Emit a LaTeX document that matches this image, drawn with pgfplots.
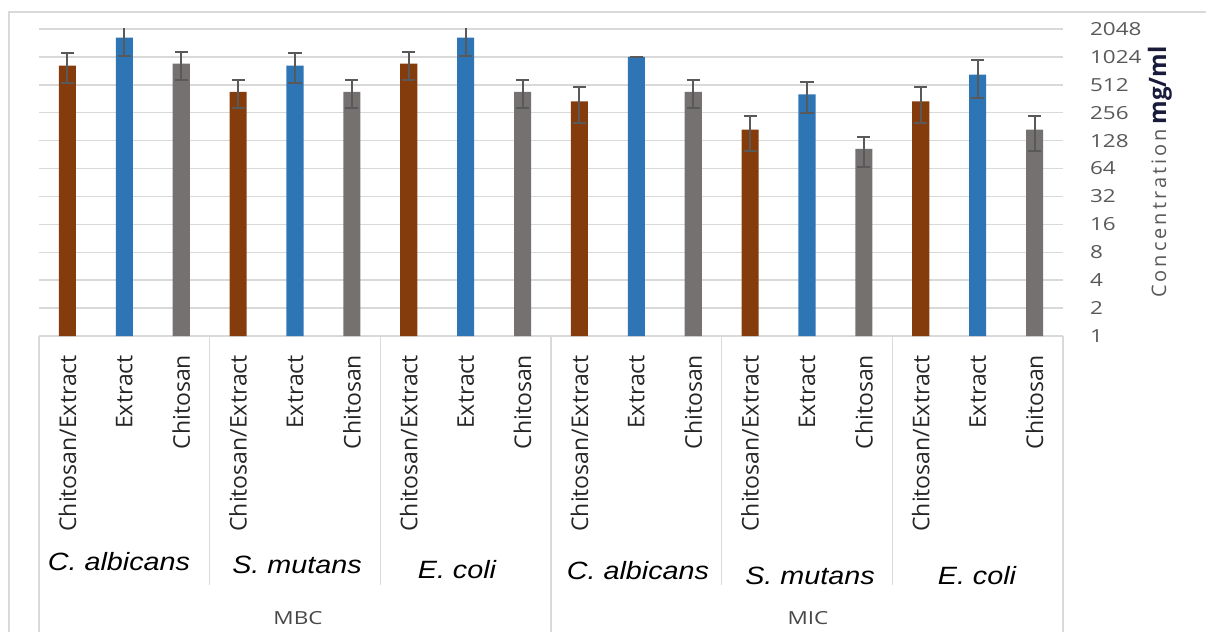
\documentclass[border=0pt]{standalone}
\usepackage{pgfplots}
\pgfplotsset{compat=1.18}
\usepackage{fontspec}
\setmainfont{Open Sans}
\newfontfamily\tickfont[FakeStretch=1.25]{Open Sans}
\newfontfamily\orgfont[FakeStretch=1.15]{Liberation Sans}
\newfontfamily\labfont[LetterSpace=15]{Open Sans}
\definecolor{cbrown}{HTML}{843C0C}
\definecolor{cblue}{HTML}{2E75B6}
\definecolor{cgray}{HTML}{767171}
\definecolor{gridc}{HTML}{D9D9D9}
\definecolor{txtg}{HTML}{595959}
\definecolor{errc}{HTML}{595959}
\begin{document}
\begin{tikzpicture}
\useasboundingbox (-19.5pt,-148pt) rectangle (583.5pt,168pt);
\begin{axis}[
  at={(0,0)}, anchor=south west,
  width=512pt, height=153.5pt, scale only axis,
  ymode=log, log basis y=2, ymin=1, ymax=2048,
  xmin=-0.5, xmax=17.5,
  ytick={1,2,4,8,16,32,64,128,256,512,1024,2048},
  yticklabels={1,2,4,8,16,32,64,128,256,512,1024,2048},
  ytick pos=right, yticklabel pos=right,
  yticklabel style={anchor=west, font=\tickfont\fontsize{9}{10}\selectfont, text=txtg},
  yticklabel shift=10pt,
  major tick length=0pt,
  ymajorgrids, grid style={gridc, line width=0.75pt},
  axis line style={draw=none},
  xtick={0,...,17},
  xticklabels={Chitosan/Extract,Extract,Chitosan,Chitosan/Extract,Extract,Chitosan,Chitosan/Extract,Extract,Chitosan,Chitosan/Extract,Extract,Chitosan,Chitosan/Extract,Extract,Chitosan,Chitosan/Extract,Extract,Chitosan},
  xticklabel style={rotate=90, anchor=east, font=\fontsize{11.5}{13}\selectfont, text=black!85},
  xticklabel shift=6pt,
  ybar, bar width=0.3, bar shift=0pt,
  error bars/y dir=both, error bars/y explicit,
  error bars/error bar style={line width=1pt, color=errc},
  error bars/error mark options={rotate=90, mark size=3.3pt, line width=1pt, color=errc},
]
\addplot[fill=cbrown, draw=none] table[x=x, y=y, y error=e] {
x y e
0 826 290
3 430 140
6 867 290
9 340 140
12 168 70
15 340 140
};
\addplot[fill=cblue, draw=none] table[x=x, y=y, y error=e] {
x y e
1 1650 590
4 826 290
7 1650 590
10 1024 0
13 405 150
16 660 290
};
\addplot[fill=cgray, draw=none] table[x=x, y=y, y error=e] {
x y e
2 867 290
5 430 140
8 430 140
11 430 140
14 104 37
17 168 70
};
\end{axis}
% chart border
\draw[gridc, line width=0.75pt] (-15pt,-150pt) -- (-15pt,162pt) -- (590pt,162pt);
% category table lines
\foreach \xx in {0,256,512} \draw[gridc, line width=0.75pt] (\xx pt,0) -- (\xx pt,-150pt);
\foreach \xx in {85.333,170.667,341.333,426.667} \draw[gridc, line width=0.75pt] (\xx pt,0) -- (\xx pt,-124.5pt);
% organism names
\begin{scope}[every node/.style={font=\orgfont\itshape\fontsize{12.5}{14}\selectfont, text=black}]
\node at (40pt,-113pt) {C. albicans};
\node at (129pt,-114.5pt) {S. mutans};
\node at (209pt,-117pt) {E. coli};
\node at (299.5pt,-117.5pt) {C. albicans};
\node at (385.5pt,-120pt) {S. mutans};
\node at (469pt,-120pt) {E. coli};
\end{scope}
\node[font=\tickfont\fontsize{9}{10}\selectfont, text=txtg!80!black] at (129.5pt,-141pt) {MBC};
\node[font=\tickfont\fontsize{9}{10}\selectfont, text=txtg!80!black] at (384.5pt,-141pt) {MIC};
% y label
\node[rotate=90, anchor=south] at (570pt,82pt) {{\labfont\fontsize{10}{12}\selectfont\color{txtg}Concentration}\ {\fontsize{12}{14}\selectfont\bfseries\color[HTML]{1A1A3A}mg/ml}};
\end{tikzpicture}
\end{document}
